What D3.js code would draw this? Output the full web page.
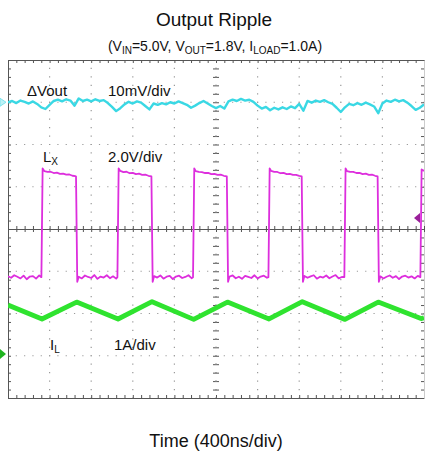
<!DOCTYPE html>
<html><head><meta charset="utf-8">
<script src="https://cdn.jsdelivr.net/npm/d3@7"></script>
<style>html,body{margin:0;padding:0;background:#fff}svg{display:block}</style>
</head><body><svg id="c" width="427" height="456"></svg>
<script>
// ---- data ----
const title = "Output Ripple";
const xLabel = "Time (400ns/div)";
const channels = ["ΔVout", "LX", "IL"];
const scaleLabels = ["10mV/div", "2.0V/div", "1A/div"];
// time axis in ns (10 div x 400 ns)
const timeDomain = [0, 4000];
const divTicks = [400, 800, 1200, 1600, 2000, 2400, 2800, 3200, 3600];
// ΔVout samples every 40 ns, in mV
const voutStep = 40;
const voutMv = [0.0,0.3,-0.2,0.4,0.1,-0.3,0.2,-0.4,-1.2,-1.6,-0.6,0.3,0.6,0.2,0.7,0.4,-0.8,0.9,0.3,0.6,
  0.2,0.7,0.3,0.5,-0.2,-1.1,-2.1,-1.4,-0.5,0.1,-0.3,0.2,-0.1,-0.9,-1.7,-0.3,-0.6,-0.2,-0.5,0.0,
  -0.3,0.2,-0.2,-0.6,-1.3,-0.8,-0.2,0.3,-0.3,-0.9,-1.4,-0.9,-1.5,0.2,0.6,0.3,0.8,0.4,0.6,0.1,
  -0.8,-1.5,-1.1,-1.9,-1.3,-1.7,-1.2,-1.6,-1.0,-1.4,-0.4,-2.0,0.3,-0.1,0.4,0.1,0.5,0.0,-0.4,-1.3,
  -2.3,-1.2,-0.4,-0.7,-0.2,-0.6,-0.1,-0.5,-1.0,-2.6,-0.3,0.4,0.1,0.6,0.2,0.5,-0.1,-0.9,-1.8,-1.3,-0.5];
// LX switch node [ns, V]
const lxTrace = [
 [0,0.04],[30,-0.03],[60,0.09],[90,0.02],[120,-0.06],[150,0.07],[180,-0.1],[210,0.03],[240,0.05],[270,-0.07],[300,0.08],[321,0.0],
 [333,5.15],[350,5.02],[380,4.98],[410,4.99],[440,4.93],[470,4.95],[500,4.89],[530,4.9],[560,4.85],[590,4.86],[620,4.8],[648,4.78],[654,4.76],
 [666,-0.22],[680,0.02],[710,-0.06],[740,0.08],[770,0.01],[800,-0.04],[830,0.1],[860,-0.08],[890,0.03],[920,-0.02],[950,0.09],[980,-0.05],[1010,0.04],[1040,-0.07],[1052,0.0],
 [1064,5.15],[1080,5.03],[1110,4.97],[1140,4.99],[1170,4.92],[1200,4.94],[1230,4.88],[1260,4.9],[1290,4.84],[1320,4.85],[1350,4.8],[1379,4.77],
 [1391,-0.22],[1405,0.05],[1435,-0.02],[1465,0.08],[1495,-0.07],[1525,0.02],[1555,0.06],[1585,-0.09],[1615,0.03],[1645,0.07],[1675,-0.04],[1705,0.01],[1735,0.09],[1765,-0.05],[1779,0.0],
 [1791,5.15],[1805,5.02],[1835,4.98],[1865,4.97],[1895,4.93],[1925,4.94],[1955,4.88],[1985,4.89],[2015,4.84],[2045,4.85],[2075,4.8],[2104,4.77],
 [2116,-0.22],[2130,0.03],[2160,0.08],[2190,-0.05],[2220,0.02],[2250,-0.08],[2280,0.06],[2310,0.01],[2340,-0.04],[2370,0.09],[2400,-0.06],[2430,0.03],[2460,0.07],[2490,-0.03],[2504,0.0],
 [2516,5.15],[2530,5.03],[2560,4.98],[2590,4.98],[2620,4.92],[2650,4.94],[2680,4.88],[2710,4.89],[2740,4.84],[2770,4.84],[2800,4.79],[2824,4.77],
 [2836,-0.22],[2850,0.06],[2880,-0.03],[2910,0.04],[2940,0.09],[2970,-0.07],[3000,0.02],[3030,-0.02],[3060,0.08],[3090,-0.05],[3120,0.03],[3150,0.1],[3180,-0.06],[3210,0.01],[3234,0.0],
 [3246,5.15],[3260,5.02],[3290,4.98],[3320,4.98],[3350,4.93],[3380,4.94],[3410,4.88],[3440,4.9],[3470,4.84],[3500,4.85],[3530,4.8],[3554,4.77],
 [3566,-0.22],[3580,0.04],[3610,-0.06],[3640,0.02],[3670,0.08],[3700,-0.03],[3730,0.05],[3760,-0.09],[3790,0.03],[3820,0.07],[3850,-0.02],[3880,0.04],[3910,-0.06],[3940,0.06],[3965,0.0],
 [3977,5.1],[4000,5.02]];
// inductor current [ns, A] (valleys and peaks)
const ilTrace = [[0,1.16],[327,0.83],[660,1.23],[1058,0.83],[1385,1.24],[1785,0.82],[2110,1.23],
  [2510,0.83],[2830,1.24],[3240,0.82],[3560,1.23],[3971,0.84],[4000,0.86]];

// ---- layout ----
const svg = d3.select("#c");
const L = 8, R = 424, T = 60, B = 398;
const x = d3.scaleLinear().domain(timeDomain).range([L, R]);
const y = d3.scaleLinear().domain([-4, 4]).range([B, T]); // divisions
const font = "'Liberation Sans', Arial, Helvetica, sans-serif";
const gridCol = "#9a9a9a", frameCol = "#555";

// dotted grid
const minorX = x(80) - x(0), minorY = y(0) - y(0.2);
const g = svg.append("g");
g.selectAll("line.vg").data(divTicks).join("line")
  .attr("x1", d => x(d)).attr("x2", d => x(d)).attr("y1", T).attr("y2", B)
  .attr("stroke", gridCol).attr("stroke-width", 1.2)
  .attr("stroke-dasharray", `1.2,${minorY - 1.2}`).attr("stroke-dashoffset", 0.6);
g.selectAll("line.hg").data([-3, -2, -1, 1, 2, 3]).join("line")
  .attr("y1", d => y(d)).attr("y2", d => y(d)).attr("x1", L).attr("x2", R)
  .attr("stroke", gridCol).attr("stroke-width", 1.2)
  .attr("stroke-dasharray", `1.2,${minorX - 1.2}`).attr("stroke-dashoffset", 0.6);

// minor tick axes
const xMinor = d3.range(0, 4001, 80);
const yMinor = d3.range(-4, 4.001, 0.2);
function styleAxis(sel) {
  sel.selectAll("text").remove();
  sel.selectAll("line").attr("stroke", frameCol);
  sel.select(".domain").attr("stroke", frameCol);
}
svg.append("g").attr("transform", `translate(0,${T})`)
  .call(d3.axisBottom(x).tickValues(xMinor).tickSize(3).tickSizeOuter(0).tickFormat("")).call(styleAxis);
svg.append("g").attr("transform", `translate(0,${B})`)
  .call(d3.axisTop(x).tickValues(xMinor).tickSize(3).tickSizeOuter(0).tickFormat("")).call(styleAxis);
svg.append("g").attr("transform", `translate(${L},0)`)
  .call(d3.axisRight(y).tickValues(yMinor).tickSize(3).tickSizeOuter(0).tickFormat("")).call(styleAxis);
svg.append("g").attr("transform", `translate(${R},0)`)
  .call(d3.axisLeft(y).tickValues(yMinor).tickSize(3).tickSizeOuter(0).tickFormat("")).call(styleAxis)
  .select(".domain").attr("stroke", "#ccc");
// center cross
svg.append("g").attr("transform", `translate(0,${y(0)})`)
  .call(d3.axisTop(x).tickValues(xMinor).tickSize(3).tickSizeOuter(0).tickFormat("")).call(styleAxis);
svg.append("g").attr("transform", `translate(0,${y(0)})`)
  .call(d3.axisBottom(x).tickValues(xMinor).tickSize(3).tickSizeOuter(0).tickFormat("")).call(styleAxis);
const cv = svg.append("g").attr("transform", `translate(${x(2000)},0)`)
  .call(d3.axisLeft(y).tickValues(yMinor).tickSize(3).tickSizeOuter(0).tickFormat("")).call(styleAxis);
cv.select(".domain").attr("stroke", "none");
const cv2 = svg.append("g").attr("transform", `translate(${x(2000)},0)`)
  .call(d3.axisRight(y).tickValues(yMinor).tickSize(3).tickSizeOuter(0).tickFormat("")).call(styleAxis);
cv2.select(".domain").attr("stroke", "none");
svg.append("line").attr("x1", x(2000)).attr("x2", x(2000)).attr("y1", T).attr("y2", B)
  .attr("stroke", gridCol).attr("stroke-width", 1.2)
  .attr("stroke-dasharray", `1.2,${minorY - 1.2}`).attr("stroke-dashoffset", 0.6);

// ---- traces ----
const clip = svg.append("clipPath").attr("id", "pc").append("rect")
  .attr("x", L).attr("y", T).attr("width", R - L).attr("height", B - T);
const traces = svg.append("g").attr("clip-path", "url(#pc)");
// ΔVout: 10 mV/div, reference at +3 div
const voutOff = 3.0, lxOff = -1.14, ilOff = -2.96;
traces.append("path").datum(voutMv)
  .attr("d", d3.line().x((d, i) => x(i * voutStep)).y(d => y(voutOff + d / 10)))
  .attr("fill", "none").attr("stroke", "#3ad8e4").attr("stroke-width", 2.4).attr("stroke-linejoin", "round");
// LX: 2 V/div
traces.append("path").datum(lxTrace)
  .attr("d", d3.line().x(d => x(d[0])).y(d => y(lxOff + d[1] / 2)))
  .attr("fill", "none").attr("stroke", "#dd2edd").attr("stroke-width", 1.8).attr("stroke-linejoin", "round");
// IL: 1 A/div
traces.append("path").datum(ilTrace)
  .attr("d", d3.line().x(d => x(d[0])).y(d => y(ilOff + d[1])))
  .attr("fill", "none").attr("stroke", "#2fe32f").attr("stroke-width", 4.8).attr("stroke-linejoin", "round");

// channel reference markers
svg.append("path").attr("d", `M0,${y(voutOff) - 4}L6,${y(voutOff)}L0,${y(voutOff) + 4}Z`)
  .attr("fill", "#bdf2f6").attr("stroke", "#7fe3ec");
svg.append("path").attr("d", `M0,${y(ilOff) - 5}L6,${y(ilOff)}L0,${y(ilOff) + 5}Z`).attr("fill", "#1fb41f");
svg.append("path").attr("d", `M420,${y(0.26) - 5}L414,${y(0.26)}L420,${y(0.26) + 5}Z`).attr("fill", "#9a1f9a");

// ---- text ----
svg.append("text").attr("x", 214).attr("y", 26).attr("text-anchor", "middle")
  .attr("font-family", font).attr("font-size", 19).attr("fill", "#111").text(title);
const sub = svg.append("text").attr("x", 215).attr("y", 51).attr("text-anchor", "middle")
  .attr("font-family", font).attr("font-size", 14).attr("fill", "#111");
[["(V", 0], ["IN", 1], ["=5.0V, V", 0], ["OUT", 1], ["=1.8V, I", 0], ["LOAD", 1], ["=1.0A)", 0]].forEach(([t, s], i, a) => {
  const prev = i > 0 ? a[i - 1][1] : 0;
  sub.append("tspan").attr("font-size", s ? 10 : 14).attr("dy", s && !prev ? 3 : (!s && prev ? -3 : 0)).text(t);
});
svg.append("text").attr("x", 216).attr("y", 447).attr("text-anchor", "middle")
  .attr("font-family", font).attr("font-size", 18).attr("fill", "#111").text(xLabel);

const lab = (tx, ty, main, subTxt) => {
  const t = svg.append("text").attr("x", tx).attr("y", ty).attr("font-family", font)
    .attr("font-size", 15).attr("fill", "#111");
  t.append("tspan").text(main);
  if (subTxt) t.append("tspan").attr("font-size", 10).attr("dy", 3).text(subTxt);
};
lab(27, 96, channels[0]);
lab(108, 96, scaleLabels[0]);
lab(43, 162, channels[1].slice(0, 1), channels[1].slice(1));
lab(108, 162, scaleLabels[1]);
lab(50, 350, channels[2].slice(0, 1), channels[2].slice(1));
lab(114, 350, scaleLabels[2]);
</script></body></html>
